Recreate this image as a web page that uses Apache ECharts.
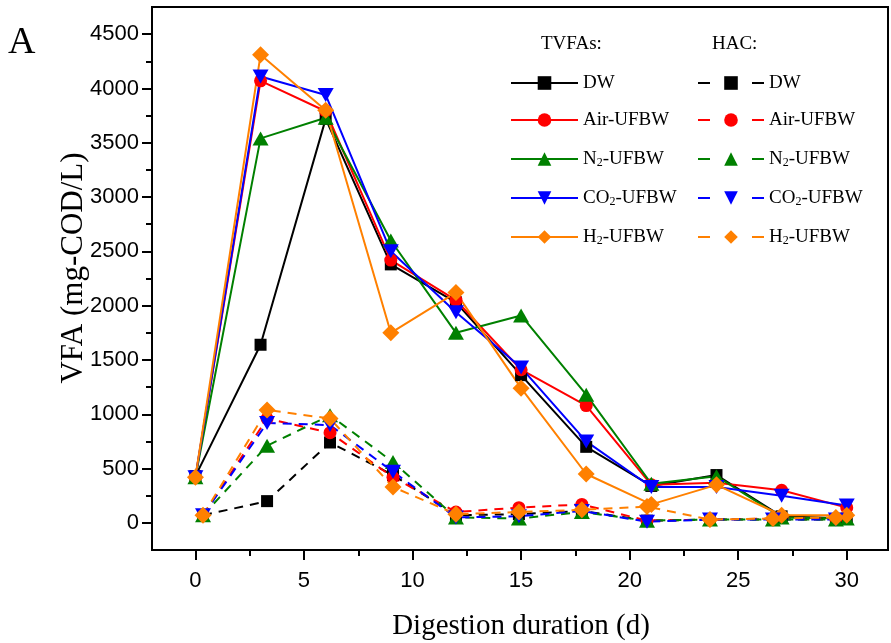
<!DOCTYPE html>
<html><head><meta charset="utf-8">
<script src="https://cdn.jsdelivr.net/npm/echarts@6/dist/echarts.min.js"></script>
<style>html,body{margin:0;padding:0;background:#fff}#c{width:891px;height:643px}</style>
</head><body><div id="c"></div><script>
// ---- data ----
const days    = [0, 3, 6, 9, 12, 15, 18, 21, 24, 27, 30];
const hacDays = [0.35, 3.3, 6.2, 9.1, 12, 14.9, 17.8, 20.8, 23.7, 26.6, 29.5];
const groups  = ['DW', 'Air-UFBW', 'N2-UFBW', 'CO2-UFBW', 'H2-UFBW'];

const tvfaDW  = [430, 1640, 3720, 2380, 2030, 1360, 700, 340, 440, 60, 40];
const tvfaAir = [420, 4070, 3790, 2420, 2050, 1410, 1080, 350, 370, 300, 140];
const tvfaN2  = [420, 3540, 3730, 2600, 1750, 1910, 1180, 360, 430, 50, 40];
const tvfaCO2 = [420, 4110, 3940, 2500, 1940, 1430, 750, 330, 330, 250, 160];
const tvfaH2  = [420, 4310, 3800, 1750, 2120, 1240, 450, 170, 350, 70, 70];

const hacDW  = [70, 200, 740, 440, 70, 80, 110, 20, 30, 30, 30];
const hacAir = [70, 960, 830, 420, 100, 140, 170, 20, 30, 40, 40];
const hacN2  = [70, 710, 990, 560, 50, 40, 100, 20, 30, 30, 30];
const hacCO2 = [70, 920, 900, 470, 50, 60, 110, 10, 30, 30, 30];
const hacH2  = [70, 1040, 960, 330, 80, 100, 120, 150, 30, 40, 50];

const xTickLabels = [0, 5, 10, 15, 20, 25, 30];
const xMinorTicks = [2.5, 7.5, 12.5, 17.5, 22.5, 27.5];
const yTickLabels = [0, 500, 1000, 1500, 2000, 2500, 3000, 3500, 4000, 4500];
const yMinorTicks = [250, 750, 1250, 1750, 2250, 2750, 3250, 3750, 4250];

// ---- styles ----
const colors  = ['#000000', '#ff0000', '#008000', '#0000ff', '#ff8000'];
const symbols = ['rect', 'circle', 'triangle', 'triangle', 'diamond'];
const symSizes = [12, 13, [16, 14], [16, 14], [17, 17]];
const symRot  = [0, 0, 0, 180, 0];

const tvfa = [tvfaDW, tvfaAir, tvfaN2, tvfaCO2, tvfaH2];
const hac  = [hacDW, hacAir, hacN2, hacCO2, hacH2];

const serif = '"Liberation Serif","Times New Roman",serif';
const sans = '"Liberation Sans",Arial,sans-serif';

function mk(prefix, vals, xs, i, dashed) {
  return {
    name: prefix + groups[i],
    type: 'line',
    data: xs.map((x, k) => [x, vals[k]]),
    symbol: symbols[i],
    symbolSize: symSizes[i],
    symbolRotate: symRot[i],
    showAllSymbol: true,
    color: colors[i],
    itemStyle: { color: colors[i], borderWidth: 0 },
    lineStyle: { color: colors[i], width: 2, type: dashed ? [9, 7] : 'solid' },
    emphasis: { disabled: true },
    animation: false,
    z: 2
  };
}
const series = [];
groups.forEach((g, i) => series.push(mk('T|', tvfa[i], days, i, false)));
groups.forEach((g, i) => series.push(mk('H|', hac[i], hacDays, i, true)));

function legendFmt(name) {
  const n = name.split('|')[1];
  return n.replace(/^(N|CO|H)2/, '$1{sub|2}');
}
const legendText = {
  fontFamily: serif, fontSize: 19, color: '#000', lineHeight: 20,
  rich: { sub: { fontFamily: serif, fontSize: 12, lineHeight: 20, verticalAlign: 'bottom', padding: [10, 0, 0, 0] } }
};
const plainNum = v => String(v);

const option = {
  backgroundColor: '#fff',
  animation: false,
  grid: { left: 152, top: 7, width: 736, height: 543, show: true, borderColor: '#000', borderWidth: 2, outerBoundsMode: 'none', containLabel: false },
  xAxis: [{
    type: 'value', min: -2, max: 31.9, position: 'bottom',
    axisLine: { show: true, onZero: false, lineStyle: { color: '#000', width: 2 } },
    axisTick: { show: true, inside: false, length: 10, lineStyle: { color: '#000', width: 2 }, customValues: xTickLabels },
    axisLabel: { show: true, margin: 20, fontFamily: sans, fontSize: 22, color: '#000', customValues: xTickLabels, formatter: plainNum },
    splitLine: { show: false }
  }, {
    type: 'value', min: -2, max: 31.9, position: 'bottom', offset: 0,
    axisLine: { show: false, onZero: false },
    axisTick: { show: true, inside: false, length: 6, lineStyle: { color: '#000', width: 2 }, customValues: xMinorTicks },
    axisLabel: { show: false },
    splitLine: { show: false }
  }],
  yAxis: [{
    type: 'value', min: -250, max: 4750, position: 'left',
    axisLine: { show: true, onZero: false, lineStyle: { color: '#000', width: 2 } },
    axisTick: { show: true, inside: false, length: 10, lineStyle: { color: '#000', width: 2 }, customValues: yTickLabels },
    axisLabel: { show: true, margin: 13, fontFamily: sans, fontSize: 22, color: '#000', customValues: yTickLabels, formatter: plainNum },
    splitLine: { show: false }
  }, {
    type: 'value', min: -250, max: 4750, position: 'left', offset: 0,
    axisLine: { show: false, onZero: false },
    axisTick: { show: true, inside: false, length: 6, lineStyle: { color: '#000', width: 2 }, customValues: yMinorTicks },
    axisLabel: { show: false },
    splitLine: { show: false }
  }],
  legend: [{
    data: groups.map(g => 'T|' + g),
    orient: 'vertical', left: 510, top: 73, padding: 0,
    itemWidth: 67, itemHeight: 17, itemGap: 17,
    formatter: legendFmt, textStyle: legendText,
    selectedMode: false
  }, {
    data: groups.map(g => 'H|' + g),
    orient: 'vertical', left: 697, top: 73, padding: 0,
    itemWidth: 66, itemHeight: 17, itemGap: 17,
    lineStyle: { type: [12, 42] },
    formatter: legendFmt, textStyle: legendText,
    selectedMode: false
  }],
  graphic: [
    { type: 'text', left: 8, top: 24, style: { text: 'A', font: '38px ' + serif, fill: '#000' } },
    { type: 'text', left: 541, top: 35, style: { text: 'TVFAs:', font: '19px ' + serif, fill: '#000' } },
    { type: 'text', left: 712, top: 35, style: { text: 'HAC:', font: '19px ' + serif, fill: '#000' } },
    { type: 'text', x: 521, y: 626, style: { text: 'Digestion duration (d)', font: '29px ' + serif, fill: '#000', align: 'center', verticalAlign: 'middle' } },
    { type: 'text', x: 74, y: 268, rotation: Math.PI / 2, style: { text: 'VFA (mg-COD/L)', font: '31px ' + serif, fill: '#000', align: 'center', verticalAlign: 'middle' } }
  ],
  series: series
};
const chart = echarts.init(document.getElementById('c'), null, { renderer: 'canvas' });
chart.setOption(option);
</script></body></html>
